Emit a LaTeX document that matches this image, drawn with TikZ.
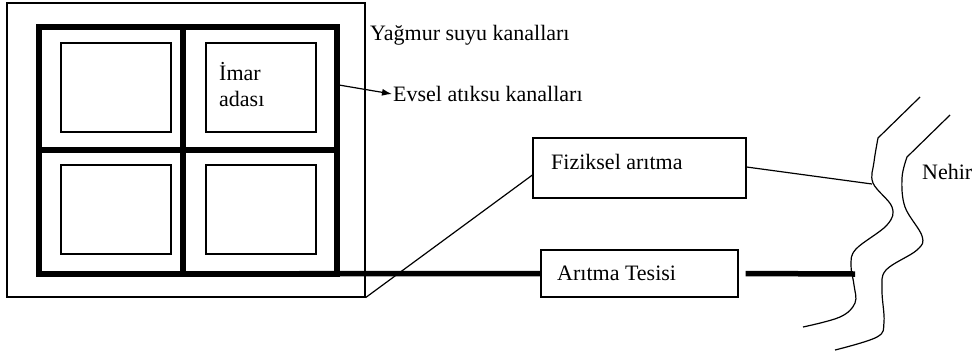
\documentclass[tikz,border=0pt]{standalone}
\usepackage{fontspec}
\setmainfont{Liberation Serif}
\usetikzlibrary{arrows.meta,calc}
\begin{document}
\begin{tikzpicture}[x=1pt,y=-1pt,
  thinline/.style={line width=1.2pt},
  heavy/.style={line width=5.5pt},
  box/.style={draw, line width=1.2pt, inner sep=0pt},
  lbl/.style={font=\rmfamily\fontsize{22}{26}\selectfont, inner sep=1pt, anchor=west}]
\useasboundingbox (0,0) rectangle (976,360);
% outer area
\node[box, minimum width=358pt, minimum height=294pt] (outer) at (186,150) {};
% inner parcels
\node[box, minimum width=110pt, minimum height=89pt] (tl) at (116,87.5) {};
\node[box, minimum width=110pt, minimum height=89pt] (tr) at (261,87.5) {};
\node[box, minimum width=110pt, minimum height=89pt] (bl) at (116,209.5) {};
\node[box, minimum width=110pt, minimum height=89pt] (br) at (261,209.5) {};
\node[lbl, align=left] (imar) at (218,85) {İmar\\adası};
% thick canal grid
\coordinate (gnw) at (39,27);
\coordinate (gse) at (337,274);
\coordinate (gsw) at (39,274);
\coordinate (gtop) at (183,27);
\coordinate (gbot) at (183,274);
\coordinate (gleft) at (39,150);
\coordinate (gright) at (337,150);
\draw[heavy] (gnw) rectangle (gse);
\draw[heavy] (gtop) -- (gbot);
\draw[heavy] (gleft) -- (gright);
% labels
\node[lbl] (yagmur) at (369,35) {Yağmur suyu kanalları};
\node[lbl] (evsel) at (392,94) {Evsel atıksu kanalları};
\coordinate (evsrc) at (339,85);
\draw[thinline, -{Latex[length=10pt,width=7pt]}] (evsrc) -- (evsel.west);
% treatment boxes
\node[box, minimum width=213pt, minimum height=60pt] (fiz) at (639.5,168) {};
\node[lbl] (fiztxt) at (550,162) {Fiziksel arıtma};
\node[box, minimum width=197pt, minimum height=47pt] (arit) at (639.5,273.5) {};
\node[lbl] (arittxt) at (556,273) {Arıtma Tesisi};
% river
\draw[thinline] (920,97) -- plot[smooth, tension=0.6] coordinates {(878,138) (874,162) (873,183) (892,207) (887,225) (856,249) (851,265) (854,285) (855,303) (840,317) (803,327)};
\draw[thinline] (950,115) -- plot[smooth, tension=0.6] coordinates {(907,157) (902,178) (905,207) (922,236) (917,250) (886,270) (882,290) (884,322) (877,337) (835,350)};
\node[lbl] (nehir) at (921,172) {Nehir};
\coordinate (rv1) at (872,184);
\coordinate (rv2) at (855,274);
% connectors
\draw[thinline] ($(fiz.west)+(0,7)$) -- (outer.south east);
\draw[thinline] ($(fiz.east)+(0,-1)$) -- (rv1);
\draw[heavy] (gsw) -- (arit.west);
\draw[heavy] ($(arit.east)+(7,0)$) -- (rv2);
\end{tikzpicture}
\end{document}
